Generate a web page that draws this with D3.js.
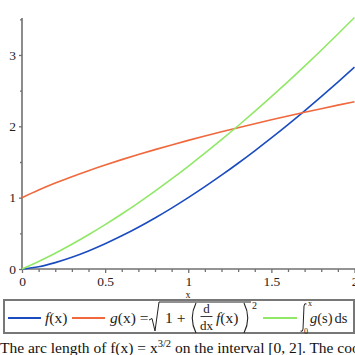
<!DOCTYPE html>
<html><head><meta charset="utf-8">
<script src="https://cdn.jsdelivr.net/npm/d3@7"></script>
<style>html,body{margin:0;padding:0;background:#fff;overflow:hidden}</style>
</head><body><svg id="c" width="355" height="355"></svg>
<script>
const xs = [0,0.1,0.2,0.3,0.4,0.5,0.6,0.7,0.8,0.9,1.0,1.1,1.2,1.3,1.4,1.5,1.6,1.7,1.8,1.9,2.0];
const fVals = [0,0.0316,0.0894,0.1643,0.2530,0.3536,0.4648,0.5857,0.7155,0.8538,1.0,1.1537,1.3145,1.4822,1.6565,1.8371,2.0239,2.2165,2.4150,2.6190,2.8284];
const gVals = [1,1.1068,1.2042,1.2942,1.3784,1.4577,1.5330,1.6047,1.6733,1.7393,1.8028,1.8641,1.9235,1.9812,2.0372,2.0917,2.1448,2.1966,2.2472,2.2967,2.3452];
const lVals = [0,0.1054,0.2211,0.3460,0.4797,0.6215,0.7712,0.9280,1.0919,1.2626,1.4397,1.6230,1.8124,2.0078,2.2087,2.4152,2.6270,2.8440,3.0662,3.2934,3.5255];
const xTicks = [0,0.5,1,1.5,2];
const xTickLabels = ["0","0.5","1","1.5","2"];
const xMinor = [0.1,0.2,0.3,0.4,0.6,0.7,0.8,0.9,1.1,1.2,1.3,1.4,1.6,1.7,1.8,1.9];
const yTicks = [0,1,2,3];
const yTickLabels = ["0","1","2","3"];
const yMinor = [0.5,1.5,2.5,3.5];
const xLabel = "x";
const colors = ["#1a4cc0","#f0683c","#90e866"];

const svg = d3.select("#c");
const serif = "'Liberation Serif','Times New Roman',serif";
const x = d3.scaleLinear([0,2],[22,354.5]);
const y = d3.scaleLinear([0,3.5],[269,19.3]);
const axisCol = "#707070";

// axes
const gx = svg.append("g").attr("transform","translate(0,269)");
gx.call(d3.axisBottom(x).tickValues(xTicks).tickFormat((d,i)=>xTickLabels[i]).tickSize(4).tickPadding(3));
const gxm = svg.append("g").attr("transform","translate(0,269)");
gxm.call(d3.axisBottom(x).tickValues(xMinor).tickFormat("").tickSize(3));
const gy = svg.append("g").attr("transform","translate(22,0)");
gy.call(d3.axisLeft(y).tickValues(yTicks).tickFormat((d,i)=>yTickLabels[i]).tickSize(3).tickPadding(3));
const gym = svg.append("g").attr("transform","translate(22,0)");
gym.call(d3.axisLeft(y).tickValues(yMinor).tickFormat("").tickSize(2));
[gx,gxm,gy,gym].forEach(g=>{
  g.select(".domain").attr("stroke",axisCol).attr("stroke-width",1.6);
  g.selectAll(".tick line").attr("stroke",axisCol).attr("stroke-width",1.3);
  g.selectAll(".tick text").attr("font-family",serif).attr("font-size",13.5).attr("fill","#222");
});
gxm.select(".domain").remove(); gym.select(".domain").remove();
gx.select(".domain").attr("d","M22,0H355");
gy.select(".domain").attr("d","M0,269V18");

svg.append("text").attr("x",188).attr("y",298).attr("text-anchor","middle")
  .attr("font-family",serif).attr("font-size",10).attr("fill","#222").text(xLabel);

// lines
const series = [fVals,gVals,lVals];
const line = d3.line().x((d,i)=>x(xs[i])).y(d=>y(d)).curve(d3.curveMonotoneX);
series.forEach((s,k)=>{
  svg.append("path").attr("d",line(s)).attr("fill","none").attr("stroke",colors[k]).attr("stroke-width",1.6);
});

// legend
const L = svg.append("g");
L.append("rect").attr("x",4).attr("y",300).attr("width",350).attr("height",33)
  .attr("fill","none").attr("stroke","#777").attr("stroke-width",2);
const legLines = [[8,41],[72,105],[263,297]];
legLines.forEach((p,k)=>L.append("line").attr("x1",p[0]).attr("x2",p[1]).attr("y1",318).attr("y2",318)
  .attr("stroke",colors[k]).attr("stroke-width",2));
function txt(xp,yp,size,parts,anchor){
  const t = L.append("text").attr("x",xp).attr("y",yp).attr("font-family",serif).attr("font-size",size)
    .attr("fill","#222").attr("text-anchor",anchor||"start");
  parts.forEach(p=>{ const s=t.append("tspan").text(p[0]); if(p[1]) s.attr("font-style","italic"); });
  return t;
}
const ink = "#222";
txt(45,323,15.5,[["f",1],["(x)",0]]);
txt(110,323,15.5,[["g",1],["(x) =",0]]);
L.append("path").attr("d","M149,320 L152,318.5 L155,331 L159,302 H251").attr("fill","none").attr("stroke",ink).attr("stroke-width",1);
txt(165,323,15.5,[["1 +",0]]);
L.append("path").attr("d","M196,303 Q188.5,318 196,333").attr("fill","none").attr("stroke",ink).attr("stroke-width",1.1);
txt(206.5,313,13,[["d",0]],"middle");
L.append("line").attr("x1",200.5).attr("x2",212.5).attr("y1",316.5).attr("y2",316.5).attr("stroke",ink).attr("stroke-width",0.9);
txt(206.5,329.5,13,[["dx",0]],"middle");
txt(216,323,15.5,[["f",1],["(x)",0]]);
L.append("path").attr("d","M244,303 Q251.5,318 244,333").attr("fill","none").attr("stroke",ink).attr("stroke-width",1.1);
txt(252,309,10,[["2",0]]);
// integral sign drawn as a stroke
L.append("path").attr("d","M306.5,304 Q304.5,302.5 304,306 L303,329 Q302.5,332.5 300.5,331")
  .attr("fill","none").attr("stroke",ink).attr("stroke-width",1);
txt(308,306,8,[["x",0]]);
txt(304,334,8,[["0",0]]);
txt(310,323,14.5,[["g",1],["(s)",0]]);
txt(334.5,323,14.5,[["ds",0]]);

// caption
const cap = svg.append("text").attr("x",0).attr("y",353).attr("font-family",serif).attr("font-size",15.5).attr("fill","#111");
cap.append("tspan").text("The arc length of f(x) = x");
cap.append("tspan").attr("dy",-6).attr("font-size",10.5).text("3/2");
cap.append("tspan").attr("dy",6).text(" on the interval [0, 2]. The coordinates of the intersection points.");
</script></body></html>
